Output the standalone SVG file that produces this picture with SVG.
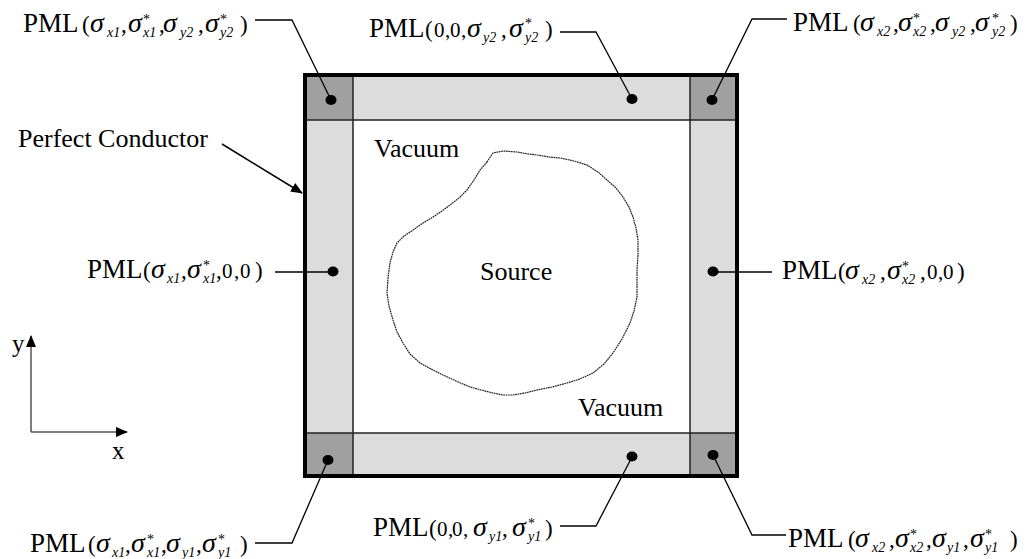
<svg xmlns="http://www.w3.org/2000/svg" width="1026" height="559" viewBox="0 0 1026 559">
<style>
text{font-family:"Liberation Serif","Times New Roman",serif;fill:#000}
.t{font-size:26px}
.P{font-size:27px}
.p{font-size:23px}
.d{font-size:21px}
.s{font-size:28px;font-style:italic}
.i{font-size:14px;font-style:italic}
.st{font-size:14px}
.lead{fill:none;stroke:#000;stroke-width:1.3}
.inner{stroke:#222;stroke-width:1.5;fill:none}
.dot{fill:#000}
</style>
<defs>
<marker id="ah" viewBox="0 0 12 10" refX="11" refY="5" markerWidth="12" markerHeight="10" orient="auto" markerUnits="userSpaceOnUse"><path d="M0,0 L12,5 L0,10 z" fill="#000"/></marker>
</defs>
<rect width="1026" height="559" fill="#fff"/>
<g id="domain">
<rect x="305" y="75" width="432" height="401" fill="#dcdcdc"/>
<rect x="353" y="120" width="337" height="313" fill="#fff"/>
<rect x="305" y="75" width="48" height="45" fill="#a0a0a0"/>
<rect x="690" y="75" width="47" height="45" fill="#a0a0a0"/>
<rect x="305" y="433" width="48" height="43" fill="#a0a0a0"/>
<rect x="690" y="433" width="47" height="43" fill="#a0a0a0"/>
<line class="inner" x1="353" y1="75" x2="353" y2="476"/>
<line class="inner" x1="690" y1="75" x2="690" y2="476"/>
<line class="inner" x1="305" y1="120" x2="737" y2="120"/>
<line class="inner" x1="305" y1="433" x2="737" y2="433"/>
<rect x="305" y="75" width="432" height="401" fill="none" stroke="#000" stroke-width="4"/>
</g>
<g id="source">
<path d="M487,162 L493,153 L503,151 L517,152 L528,154 L537,155 L549,157 L560,158 L574,161 L587,165 L598,172 L607,180 L616,188 L623,197 L629,207 L633,217 L636,228 L638,240 L638,255 L637,270 L637,284 L637,297 L634,311 L630,323 L622,339 L613,353 L604,364 L593,373 L580,379 L567,383 L552,387 L537,390 L525,393 L513,395 L503,395 L493,393 L481,390 L470,387 L456,381 L443,375 L431,369 L420,363 L410,354 L403,343 L397,332 L393,320 L389,306 L387,293 L388,278 L390,263 L393,252 L397,243 L404,236 L413,230 L423,223 L433,217 L442,211 L450,205 L459,198 L467,190 L474,180 L480,170 Z" fill="none" stroke="#222" stroke-width="1.2" stroke-dasharray="1.8 0.6"/>
<text class="t" x="480" y="280">Source</text>
</g>
<g id="vacuum1"><text class="t" x="374" y="157">Vacuum</text></g>
<g id="vacuum2"><text class="t" x="578" y="416">Vacuum</text></g>
<g id="conductor-label"><text class="t" x="18" y="147">Perfect Conductor</text></g>
<g id="axes">
<line x1="31" y1="432" x2="31" y2="336" stroke="#555" stroke-width="1.5" marker-end="url(#ah)"/>
<line x1="31" y1="432" x2="127" y2="432" stroke="#555" stroke-width="1.5" marker-end="url(#ah)"/>
<text style="font-size:25px" x="12" y="352">y</text>
<text style="font-size:25px" x="112" y="459">x</text>
</g>
<g id="dots">
<ellipse class="dot" cx="331" cy="100" rx="5.5" ry="5"/>
<ellipse class="dot" cx="632" cy="99" rx="5.5" ry="5"/>
<ellipse class="dot" cx="712" cy="100" rx="5.5" ry="5"/>
<ellipse class="dot" cx="333" cy="271.5" rx="5.5" ry="5"/>
<ellipse class="dot" cx="713" cy="271.5" rx="5.5" ry="5"/>
<ellipse class="dot" cx="328" cy="460" rx="5.5" ry="5"/>
<ellipse class="dot" cx="632" cy="456.5" rx="5.5" ry="5"/>
<ellipse class="dot" cx="713" cy="455" rx="5.5" ry="5"/>
</g>
<g id="connectors">
<polyline class="lead" points="255,20 292,20 331,100"/>
<polyline class="lead" points="560,32 596,32 632,99"/>
<polyline class="lead" points="787,19 752,19 712,100"/>
<polyline class="lead" points="275,272 333,272"/>
<polyline class="lead" points="713,272 772,272"/>
<polyline class="lead" points="255,543 292,543 328,460"/>
<polyline class="lead" points="560,526 596,526 632,457"/>
<polyline class="lead" points="786,535 752,535 713,455"/>
<line x1="222" y1="144" x2="302" y2="193" stroke="#000" stroke-width="1.5" marker-end="url(#ah)"/>
</g>
<g id="pml-tl">
<text><tspan class="P" x="23" y="32">PML</tspan><tspan class="p" x="82" y="32">(</tspan><tspan class="s" x="90" y="32">σ</tspan><tspan class="i" x="107" y="37">x1</tspan><tspan class="p" x="121" y="32">,</tspan><tspan class="s" x="128" y="32">σ</tspan><tspan class="st" x="143" y="23.5">*</tspan><tspan class="i" x="143" y="37">x1</tspan><tspan class="p" x="159" y="32">,</tspan><tspan class="s" x="163" y="32">σ</tspan><tspan class="i" x="180" y="37">y2</tspan><tspan class="p" x="198" y="32">,</tspan><tspan class="s" x="205" y="32">σ</tspan><tspan class="st" x="220" y="23.5">*</tspan><tspan class="i" x="220" y="37">y2</tspan><tspan class="p" x="240" y="32">)</tspan></text>
</g>
<g id="pml-tm">
<text><tspan class="P" x="369" y="36.7">PML</tspan><tspan class="p" x="425" y="36.7">(</tspan><tspan class="d" x="434" y="36.7">0</tspan><tspan class="d" x="445" y="36.7">,</tspan><tspan class="d" x="450" y="36.7">0</tspan><tspan class="d" x="461" y="36.7">,</tspan><tspan class="s" x="467" y="36.7">σ</tspan><tspan class="i" x="483" y="41.7">y2</tspan><tspan class="p" x="501" y="36.7">,</tspan><tspan class="s" x="509" y="36.7">σ</tspan><tspan class="st" x="525" y="28">*</tspan><tspan class="i" x="525" y="41.7">y2</tspan><tspan class="p" x="545" y="36.7">)</tspan></text>
</g>
<g id="pml-tr">
<text><tspan class="P" x="793" y="31">PML</tspan><tspan class="p" x="853" y="31">(</tspan><tspan class="s" x="860" y="31">σ</tspan><tspan class="i" x="877" y="36">x2</tspan><tspan class="p" x="893" y="31">,</tspan><tspan class="s" x="898" y="31">σ</tspan><tspan class="st" x="913" y="22.5">*</tspan><tspan class="i" x="913" y="36">x2</tspan><tspan class="p" x="930" y="31">,</tspan><tspan class="s" x="935" y="31">σ</tspan><tspan class="i" x="952" y="36">y2</tspan><tspan class="p" x="970" y="31">,</tspan><tspan class="s" x="975" y="31">σ</tspan><tspan class="st" x="992" y="22.5">*</tspan><tspan class="i" x="992" y="36">y2</tspan><tspan class="p" x="1010" y="31">)</tspan></text>
</g>
<g id="pml-lm">
<text><tspan class="P" x="87" y="278">PML</tspan><tspan class="p" x="143" y="278">(</tspan><tspan class="s" x="151" y="278">σ</tspan><tspan class="i" x="167" y="283">x1</tspan><tspan class="p" x="181" y="278">,</tspan><tspan class="s" x="187" y="278">σ</tspan><tspan class="st" x="203" y="269.5">*</tspan><tspan class="i" x="203" y="283">x1</tspan><tspan class="p" x="216" y="278">,</tspan><tspan class="d" x="222" y="278">0</tspan><tspan class="d" x="234" y="278">,</tspan><tspan class="d" x="240" y="278">0</tspan><tspan class="p" x="255" y="278">)</tspan></text>
</g>
<g id="pml-rm">
<text><tspan class="P" x="782" y="279">PML</tspan><tspan class="p" x="838" y="279">(</tspan><tspan class="s" x="845" y="279">σ</tspan><tspan class="i" x="862" y="284">x2</tspan><tspan class="p" x="880" y="279">,</tspan><tspan class="s" x="887" y="279">σ</tspan><tspan class="st" x="902" y="270.5">*</tspan><tspan class="i" x="902" y="284">x2</tspan><tspan class="p" x="920" y="279">,</tspan><tspan class="d" x="927" y="279">0</tspan><tspan class="d" x="938" y="279">,</tspan><tspan class="d" x="943" y="279">0</tspan><tspan class="p" x="957" y="279">)</tspan></text>
</g>
<g id="pml-bl">
<text><tspan class="P" x="30" y="552">PML</tspan><tspan class="p" x="88" y="552">(</tspan><tspan class="s" x="96" y="552">σ</tspan><tspan class="i" x="112" y="557">x1</tspan><tspan class="p" x="125" y="552">,</tspan><tspan class="s" x="131" y="552">σ</tspan><tspan class="st" x="147" y="543.5">*</tspan><tspan class="i" x="147" y="557">x1</tspan><tspan class="p" x="161" y="552">,</tspan><tspan class="s" x="166" y="552">σ</tspan><tspan class="i" x="182" y="557">y1</tspan><tspan class="p" x="196" y="552">,</tspan><tspan class="s" x="202" y="552">σ</tspan><tspan class="st" x="218" y="543.5">*</tspan><tspan class="i" x="218" y="557">y1</tspan><tspan class="p" x="240" y="552">)</tspan></text>
</g>
<g id="pml-bm">
<text><tspan class="P" x="373" y="536">PML</tspan><tspan class="p" x="429" y="536">(</tspan><tspan class="d" x="437" y="536">0</tspan><tspan class="d" x="448" y="536">,</tspan><tspan class="d" x="452" y="536">0</tspan><tspan class="d" x="463" y="536">,</tspan><tspan class="s" x="473" y="536">σ</tspan><tspan class="i" x="489" y="541">y1</tspan><tspan class="p" x="502" y="536">,</tspan><tspan class="s" x="512" y="536">σ</tspan><tspan class="st" x="528" y="527.5">*</tspan><tspan class="i" x="528" y="541">y1</tspan><tspan class="p" x="545" y="536">)</tspan></text>
</g>
<g id="pml-br">
<text><tspan class="P" x="788" y="547">PML</tspan><tspan class="p" x="848" y="547">(</tspan><tspan class="s" x="855" y="547">σ</tspan><tspan class="i" x="872" y="552">x2</tspan><tspan class="p" x="889" y="547">,</tspan><tspan class="s" x="895" y="547">σ</tspan><tspan class="st" x="910" y="538.5">*</tspan><tspan class="i" x="910" y="552">x2</tspan><tspan class="p" x="926" y="547">,</tspan><tspan class="s" x="932" y="547">σ</tspan><tspan class="i" x="947" y="552">y1</tspan><tspan class="p" x="963" y="547">,</tspan><tspan class="s" x="970" y="547">σ</tspan><tspan class="st" x="985" y="538.5">*</tspan><tspan class="i" x="985" y="552">y1</tspan><tspan class="p" x="1010" y="547">)</tspan></text>
</g>
</svg>
